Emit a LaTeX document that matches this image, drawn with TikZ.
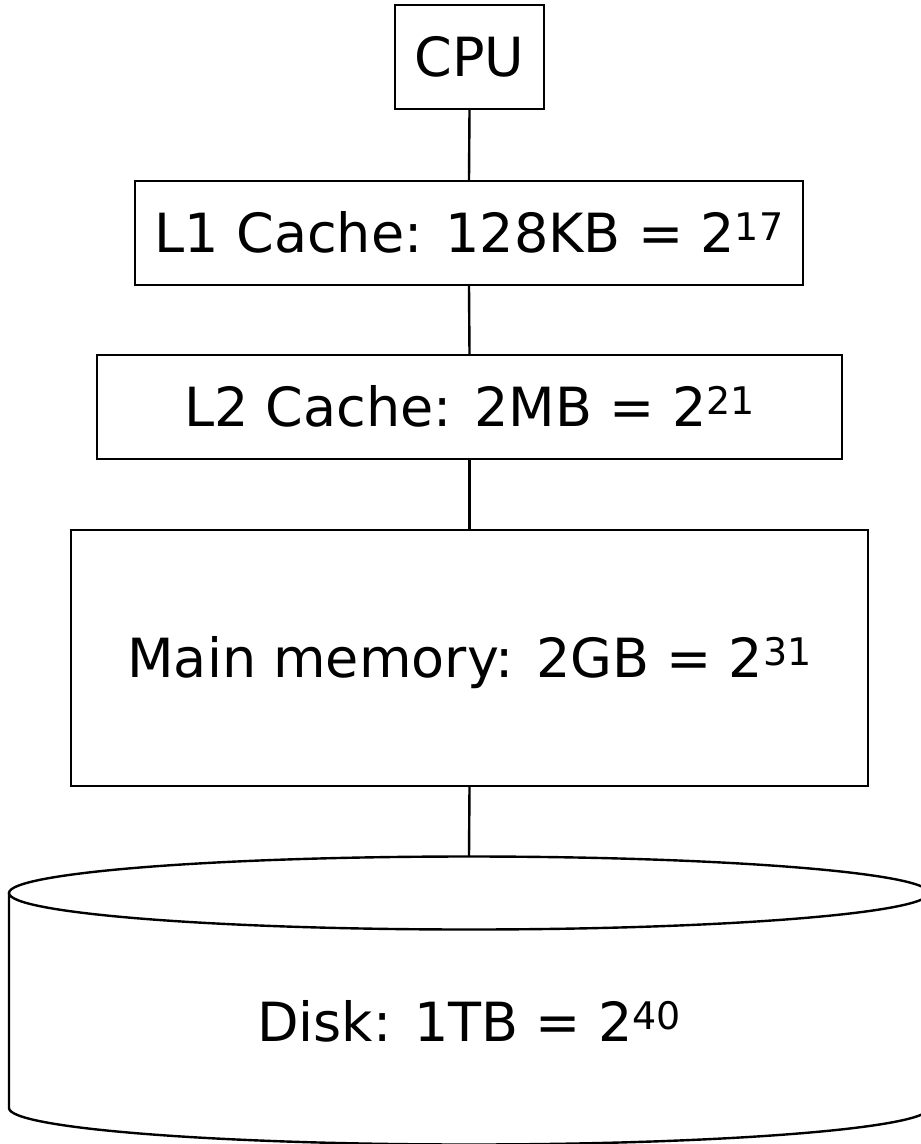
\documentclass[tikz,border=0pt]{standalone}
\usepackage{fontspec}
\setmainfont{DejaVu Sans}
\newcommand\supnum[1]{\raisebox{11.7pt}{\fontsize{38}{38}\selectfont #1}}
\newcommand\bigtext{\fontsize{54}{60}\selectfont}
\begin{document}
\begin{tikzpicture}[x=1pt,y=-1pt,line width=2.4pt,
  box/.style={draw, rectangle, inner sep=0pt, font=\bigtext, text height=39pt, text depth=0pt},
  label/.style={inner sep=0pt, font=\bigtext, text height=39pt, text depth=0pt},
  link/.style={draw, line width=2.4pt}]
\useasboundingbox (0,0) rectangle (921,1144);
\node[box, minimum width=149pt, minimum height=104pt] (cpu) at (469.5,57) {CPU};
\node[box, minimum width=668pt, minimum height=104pt] (l1) at (469,233) {L1 Cache: 128KB = 2\supnum{17}};
\node[box, minimum width=745pt, minimum height=104pt] (l2) at (469.5,407) {L2 Cache: 2MB = 2\supnum{21}};
\node[box, minimum width=797pt, minimum height=256pt] (main) at (469.5,658) {Main memory: 2GB = 2\supnum{31}};
% disk cylinder
\draw (469,893) ellipse [x radius=460, y radius=36.5];
\draw (9,893) -- (9,1108) arc[start angle=180, end angle=0, x radius=460, y radius=36.5] -- (929,893);
\coordinate (disktop) at (469,856.5);
\node[label] (disk) at (469,1022) {Disk: 1TB = 2\supnum{40}};
\draw[link] (cpu.south) -- (l1.north);
\draw[link] (l1.south) -- (l2.north);
\draw[link] (l2.south) -- (main.north);
\draw[link] (main.south) -- (disktop);
\end{tikzpicture}
\end{document}
